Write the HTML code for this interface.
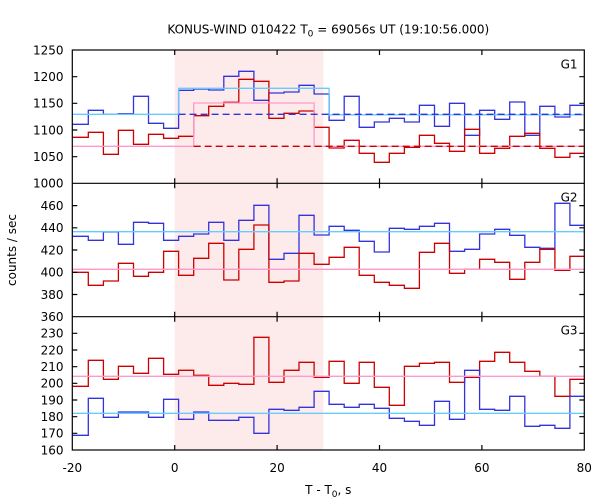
<!DOCTYPE html>
<html>
<head>
<meta charset="utf-8">
<style>
  html,body{margin:0;padding:0;background:#fff;}
  svg{display:block;}
  text{font-family:"DejaVu Sans","Liberation Sans",sans-serif;font-size:12px;fill:#000;}
</style>
</head>
<body>
<svg width="600" height="500" viewBox="0 0 600 500" xmlns="http://www.w3.org/2000/svg">
  <rect x="0" y="0" width="600" height="500" fill="#fff"/>
  <!-- shaded interval -->
  <rect x="174.7" y="50" width="148.6" height="400" fill="#fdebeb"/>

  <g fill="none" stroke-width="1.3" stroke-linejoin="miter">
    <!-- Panel 1 -->
    <path stroke="#3333dd" d="M72.3,124.3 H88.3 V110.3 H103.4 V114.3 H118.4 V113.7 H133.5 V96.3 H148.5 V123.3 H163.6 V128.3 H178.6 V90.3 H193.7 V89 H208.7 V90 H223.8 V76.3 H238.8 V71.3 H253.9 V100.3 H268.9 V93 H284 V92 H299 V85.3 H314.1 V94 H329.1 V120.3 H344.2 V96.3 H359.2 V127.3 H374.3 V122 H389.3 V118.3 H404.4 V122 H419.4 V105.3 H434.5 V126.3 H449.5 V103.3 H464.6 V135.3 H479.6 V110.3 H494.7 V119.3 H509.7 V102 H524.8 V135.3 H539.8 V106.3 H554.9 V117 H569.9 V105.3 H584.3"/>
    <path stroke="#cc0000" d="M72.3,137.3 H88.3 V132.3 H103.4 V154.3 H118.4 V130.3 H133.5 V144.3 H148.5 V134.3 H163.6 V138.3 H178.6 V136.3 H193.7 V115.7 H208.7 V106.3 H223.8 V102.3 H238.8 V79.3 H253.9 V81.3 H268.9 V118.3 H284 V113.3 H299 V111 H314.1 V127.3 H329.1 V148 H344.2 V140.3 H359.2 V153.3 H374.3 V162.3 H389.3 V153.3 H404.4 V147.3 H419.4 V135.3 H434.5 V143.3 H449.5 V151.3 H464.6 V129.3 H479.6 V153.3 H494.7 V148.3 H509.7 V136.3 H524.8 V133.3 H539.8 V148.3 H554.9 V157.3 H569.9 V153.3 H584.3"/>
    <path stroke="#66ccff" d="M72.3,114.3 H178.6 V88.3 H329.1 V114.8 H584.3"/>
    <path stroke="#ff99cc" d="M72.3,146.3 H193.7 V103 H314.1 V146.3 H584.3"/>
    <path stroke="#3333dd" stroke-dasharray="7,4" d="M178.6,114.3 H584.3"/>
    <path stroke="#cc0000" stroke-dasharray="7,4" d="M193.7,146.3 H584.3"/>

    <!-- Panel 2 -->
    <path stroke="#3333dd" d="M72.3,236.3 H88.3 V240.3 H103.4 V232 H118.4 V244.3 H133.5 V222.3 H148.5 V223.3 H163.6 V240.3 H178.6 V236.3 H193.7 V234 H208.7 V222.3 H223.8 V240.3 H238.8 V220.3 H253.9 V205.3 H268.9 V259.3 H284 V253.3 H299 V215.3 H314.1 V235 H329.1 V226.3 H344.2 V230.3 H359.2 V241.3 H374.3 V252 H389.3 V228.3 H404.4 V229.3 H419.4 V226.3 H434.5 V223.3 H449.5 V251.3 H464.6 V249.3 H479.6 V234 H494.7 V229.3 H509.7 V235.3 H524.8 V247.3 H539.8 V248.3 H554.9 V203.3 H569.9 V225.3 H584.3"/>
    <path stroke="#cc0000" d="M72.3,272.3 H88.3 V285.3 H103.4 V281 H118.4 V263.3 H133.5 V276.3 H148.5 V272.3 H163.6 V251.3 H178.6 V275.3 H193.7 V258.3 H208.7 V243.3 H223.8 V280 H238.8 V249.3 H253.9 V225 H268.9 V282.3 H284 V281 H299 V253.3 H314.1 V264.3 H329.1 V257.3 H344.2 V247.3 H359.2 V275.3 H374.3 V282.3 H389.3 V285.3 H404.4 V288.3 H419.4 V252.3 H434.5 V243.3 H449.5 V273.3 H464.6 V269.3 H479.6 V259.3 H494.7 V262.3 H509.7 V279.3 H524.8 V262.3 H539.8 V249.3 H554.9 V270.3 H569.9 V256.3 H584.3"/>
    <path stroke="#66ccff" d="M72.3,231.7 H584.3"/>
    <path stroke="#ff99cc" d="M72.3,269.3 H584.3"/>

    <!-- Panel 3 -->
    <path stroke="#cc0000" d="M72.3,386.3 H88.3 V360.3 H103.4 V379.3 H118.4 V366.3 H133.5 V373.3 H148.5 V358.3 H163.6 V374.3 H178.6 V370.3 H193.7 V375.3 H208.7 V385.3 H223.8 V383.3 H238.8 V384.3 H253.9 V337.3 H268.9 V382.3 H284 V370.3 H299 V362.3 H314.1 V377.3 H329.1 V361.3 H344.2 V383.3 H359.2 V362.3 H374.3 V387.3 H389.3 V405.3 H404.4 V366.3 H419.4 V363.3 H434.5 V362.3 H449.5 V382.3 H464.6 V377.3 H479.6 V361.3 H494.7 V352.3 H509.7 V362.3 H524.8 V371.3 H539.8 V376.3 H554.9 V396.3 H569.9 V379.3 H584.3"/>
    <path stroke="#3333dd" d="M72.3,435.3 H88.3 V398.3 H103.4 V417.3 H118.4 V412 H133.5 V412 H148.5 V417.3 H163.6 V399.3 H178.6 V419.3 H193.7 V412 H208.7 V420.3 H223.8 V420.3 H238.8 V417.3 H253.9 V433.3 H268.9 V409.3 H284 V410.3 H299 V407.3 H314.1 V391.3 H329.1 V404.3 H344.2 V407.3 H359.2 V404.3 H374.3 V408.3 H389.3 V418.3 H404.4 V421.3 H419.4 V425.3 H434.5 V401.3 H449.5 V419.3 H464.6 V370.3 H479.6 V409.3 H494.7 V410.3 H509.7 V396.3 H524.8 V426.3 H539.8 V425.3 H554.9 V428.3 H569.9 V396.3 H584.3"/>
    <path stroke="#ff99cc" d="M72.3,376.3 H584.3"/>
    <path stroke="#66ccff" d="M72.3,413.3 H584.3"/>
  </g>

  <!-- frames -->
  <g fill="none" stroke="#000" stroke-width="1.2">
    <rect x="72.3" y="50" width="512" height="400"/>
    <path d="M72.3,183.3 H584.3 M72.3,316.7 H584.3"/>
    <!-- x ticks -->
    <path d="M174.7,50 v5 M277.1,50 v5 M379.5,50 v5 M481.9,50 v5
             M174.7,178.3 v10 M277.1,178.3 v10 M379.5,178.3 v10 M481.9,178.3 v10
             M174.7,311.7 v10 M277.1,311.7 v10 M379.5,311.7 v10 M481.9,311.7 v10
             M174.7,450 v-5 M277.1,450 v-5 M379.5,450 v-5 M481.9,450 v-5"/>
    <!-- y ticks P1 -->
    <path d="M72.3,156.7 h5 M72.3,130 h5 M72.3,103.3 h5 M72.3,76.7 h5
             M584.3,156.7 h-5 M584.3,130 h-5 M584.3,103.3 h-5 M584.3,76.7 h-5"/>
    <!-- y ticks P2 -->
    <path d="M72.3,294.5 h5 M72.3,272.3 h5 M72.3,250 h5 M72.3,227.8 h5 M72.3,205.6 h5
             M584.3,294.5 h-5 M584.3,272.3 h-5 M584.3,250 h-5 M584.3,227.8 h-5 M584.3,205.6 h-5"/>
    <!-- y ticks P3 -->
    <path d="M72.3,433.3 h5 M72.3,416.7 h5 M72.3,400 h5 M72.3,383.3 h5 M72.3,366.7 h5 M72.3,350 h5 M72.3,333.3 h5
             M584.3,433.3 h-5 M584.3,416.7 h-5 M584.3,400 h-5 M584.3,383.3 h-5 M584.3,366.7 h-5 M584.3,350 h-5 M584.3,333.3 h-5"/>
  </g>

  <!-- title -->
  <text x="328.3" y="33.3" text-anchor="middle">KONUS-WIND 010422 T<tspan font-size="9" dy="3">0</tspan><tspan dy="-3"> = 69056s UT (19:10:56.000)</tspan></text>

  <!-- y tick labels -->
  <g text-anchor="end">
    <text x="63.5" y="54.4">1250</text>
    <text x="63.5" y="81.1">1200</text>
    <text x="63.5" y="107.7">1150</text>
    <text x="63.5" y="134.4">1100</text>
    <text x="63.5" y="161.1">1050</text>
    <text x="63.5" y="187.7">1000</text>
    <text x="63.5" y="210">460</text>
    <text x="63.5" y="232.2">440</text>
    <text x="63.5" y="254.4">420</text>
    <text x="63.5" y="276.7">400</text>
    <text x="63.5" y="298.9">380</text>
    <text x="63.5" y="321.1">360</text>
    <text x="63.5" y="337.7">230</text>
    <text x="63.5" y="354.4">220</text>
    <text x="63.5" y="371.1">210</text>
    <text x="63.5" y="387.7">200</text>
    <text x="63.5" y="404.4">190</text>
    <text x="63.5" y="421.1">180</text>
    <text x="63.5" y="437.7">170</text>
    <text x="63.5" y="454.4">160</text>
  </g>

  <!-- x tick labels -->
  <g text-anchor="middle">
    <text x="72.3" y="472">-20</text>
    <text x="174.7" y="472">0</text>
    <text x="277.1" y="472">20</text>
    <text x="379.5" y="472">40</text>
    <text x="481.9" y="472">60</text>
    <text x="584.3" y="472">80</text>
  </g>

  <!-- x axis label -->
  <text x="328.3" y="494" text-anchor="middle">T - T<tspan font-size="9" dy="3">0</tspan><tspan dy="-3">, s</tspan></text>

  <!-- y axis label -->
  <text transform="translate(16,250) rotate(-90)" text-anchor="middle">counts / sec</text>

  <!-- panel labels -->
  <g text-anchor="end">
    <text x="577.5" y="68.3">G1</text>
    <text x="577.5" y="201.7">G2</text>
    <text x="577.5" y="334.7">G3</text>
  </g>
</svg>
</body>
</html>
